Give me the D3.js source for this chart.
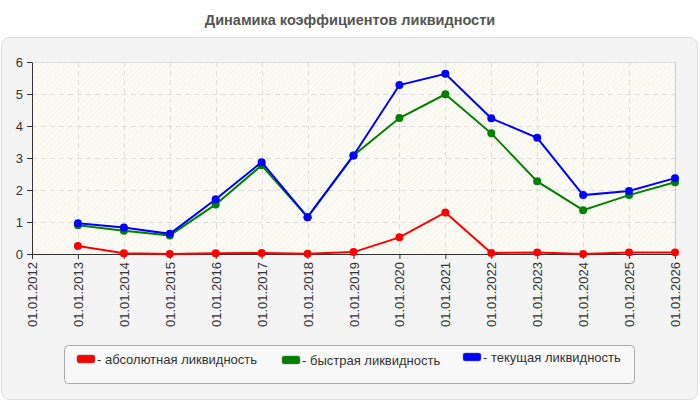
<!DOCTYPE html>
<html>
<head>
<meta charset="utf-8">
<script src="https://cdn.jsdelivr.net/npm/d3@7"></script>
<style>
  body { margin: 0; background: #fff; }
  svg { display: block; font-family: "Liberation Sans", Arial, sans-serif; }
</style>
</head>
<body>
<svg width="700" height="400"></svg>
<script>
var dates = ["01.01.2012", "01.01.2013", "01.01.2014", "01.01.2015", "01.01.2016", "01.01.2017",
    "01.01.2018", "01.01.2019", "01.01.2020", "01.01.2021", "01.01.2022", "01.01.2023",
    "01.01.2024", "01.01.2025", "01.01.2026"];
// series start at 2013 (index 1)
var absolute = [0.25, 0.02, 0.0, 0.02, 0.03, 0.01, 0.06, 0.52, 1.3, 0.03, 0.05, 0.0, 0.05, 0.05];
var quick = [0.9, 0.73, 0.58, 1.55, 2.77, 1.15, 3.08, 4.25, 4.99, 3.77, 2.27, 1.37, 1.84, 2.24];
var current = [0.96, 0.83, 0.63, 1.71, 2.87, 1.15, 3.08, 5.28, 5.63, 4.24, 3.63, 1.84, 1.97, 2.37];
var yTicks = [0, 1, 2, 3, 4, 5, 6];
var seriesNames = ["- абсолютная ликвидность", "- быстрая ликвидность", "- текущая ликвидность"];
var seriesColors = ["#ff0000", "#008000", "#0000ff"];

var svg = d3.select('svg');
var margin = {top: 62, left: 32, right: 25, bottom: 146};
var width = 700 - margin.left - margin.right;
var height = 400 - margin.top - margin.bottom;

// outer panel
svg.append('rect')
    .attr('x', 1.5).attr('y', 37.5)
    .attr('width', 696).attr('height', 362)
    .attr('rx', 8)
    .attr('fill', '#f4f4f4')
    .attr('stroke', '#dddddd');

svg.append('text')
    .attr('x', 350).attr('y', 25)
    .attr('text-anchor', 'middle')
    .attr('font-size', 14.5)
    .attr('font-weight', 'bold')
    .attr('fill', '#555')
    .text('Динамика коэффициентов ликвидности');

// hatch pattern
var defs = svg.append('defs');
var pat = defs.append('pattern')
    .attr('id', 'hatch')
    .attr('patternUnits', 'userSpaceOnUse')
    .attr('width', 4).attr('height', 4)
    .attr('patternTransform', 'rotate(45)');
pat.append('rect').attr('width', 4).attr('height', 4).attr('fill', '#fcfcf4');
pat.append('line')
    .attr('x1', 0).attr('y1', 0).attr('x2', 0).attr('y2', 4)
    .attr('stroke', '#eeeee6').attr('stroke-width', 1.2);

var g = svg.append('g')
    .attr('transform', 'translate(' + margin.left + ',' + margin.top + ')');

var x = d3.scalePoint().domain(dates).range([0, width]);
var y = d3.scaleLinear().domain([0, 6]).range([height, 0]);

g.append('rect')
    .attr('width', width).attr('height', height)
    .attr('fill', 'url(#hatch)');

// grid
g.selectAll('.hgrid')
    .data(yTicks.slice(1))
    .enter().append('line')
    .attr('x1', 0).attr('x2', width)
    .attr('y1', function(d) { return y(d) + 0.5; })
    .attr('y2', function(d) { return y(d) + 0.5; })
    .attr('stroke', '#dddddd')
    .attr('stroke-dasharray', function(d) { return d === 6 ? null : '5,4'; });
g.selectAll('.vgrid')
    .data(dates.slice(1))
    .enter().append('line')
    .attr('x1', function(d) { return Math.round(x(d)) + 0.5; })
    .attr('x2', function(d) { return Math.round(x(d)) + 0.5; })
    .attr('y1', 0).attr('y2', height)
    .attr('stroke', function(d, i) { return i === dates.length - 2 ? '#cccccc' : '#dddddd'; })
    .attr('stroke-dasharray', function(d, i) { return i === dates.length - 2 ? null : '5,4'; });

// axes
var yAxis = g.append('g')
    .call(d3.axisLeft(y).tickValues(yTicks).tickFormat(d3.format('d')).tickSize(5).tickSizeOuter(0));
yAxis.selectAll('text').attr('font-size', 13).attr('fill', '#333').attr('dx', '-1');
yAxis.selectAll('line, path').attr('stroke', '#333');

var xAxis = g.append('g')
    .attr('transform', 'translate(0,' + height + ')')
    .call(d3.axisBottom(x).tickSize(5).tickSizeOuter(0));
xAxis.selectAll('line, path').attr('stroke', '#333');
xAxis.selectAll('text')
    .attr('font-size', 13)
    .attr('fill', '#333')
    .attr('transform', 'rotate(-90)')
    .attr('text-anchor', 'end')
    .attr('x', -8)
    .attr('y', 0)
    .attr('dy', '0.35em');

// lines
var allSeries = [absolute, quick, current];
var line = d3.line()
    .x(function(d, i) { return x(dates[i + 1]); })
    .y(function(d) { return y(d); });

allSeries.forEach(function(s, k) {
    g.append('path')
        .datum(s)
        .attr('d', line)
        .attr('fill', 'none')
        .attr('stroke', seriesColors[k])
        .attr('stroke-width', 2);
    g.selectAll('.pt' + k)
        .data(s)
        .enter().append('circle')
        .attr('cx', function(d, i) { return x(dates[i + 1]); })
        .attr('cy', function(d) { return y(d); })
        .attr('r', 4)
        .attr('fill', seriesColors[k]);
});

// legend
var legend = svg.append('g');
legend.append('rect')
    .attr('x', 64.5).attr('y', 345.5)
    .attr('width', 570).attr('height', 38)
    .attr('rx', 4)
    .attr('fill', '#f8f8f8')
    .attr('stroke', '#aaaaaa');

var legendX = [77, 282, 463];
var legendY = [359, 360, 357];
seriesNames.forEach(function(name, k) {
    legend.append('rect')
        .attr('x', legendX[k]).attr('y', legendY[k] - 4)
        .attr('width', 18).attr('height', 8)
        .attr('rx', 2)
        .attr('fill', seriesColors[k])
        .attr('stroke', '#777')
        .attr('stroke-width', 0.5);
    legend.append('text')
        .attr('x', legendX[k] + 20).attr('y', legendY[k] + 5)
        .attr('font-size', 13)
        .attr('fill', '#333')
        .text(name);
});
</script>
</body>
</html>
